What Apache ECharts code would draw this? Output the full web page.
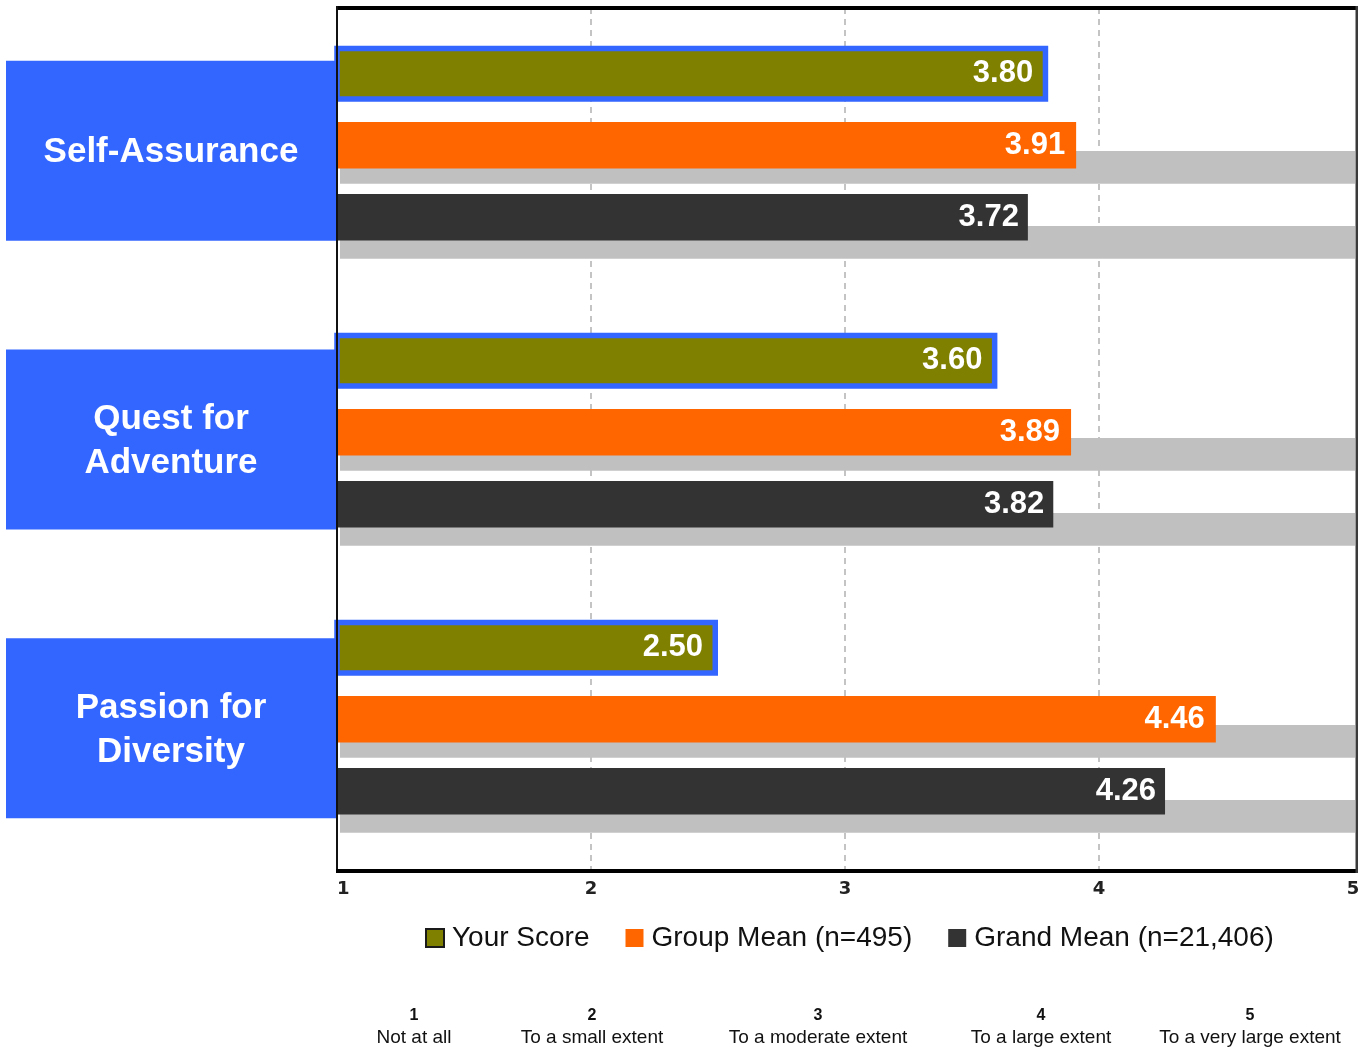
<!DOCTYPE html>
<html>
<head>
<meta charset="utf-8">
<script src="https://cdn.jsdelivr.net/npm/echarts@6/dist/echarts.min.js"></script>
<style>
  html, body { margin: 0; padding: 0; background: #ffffff; }
  #chart { width: 1359px; height: 1050px; }
</style>
</head>
<body>
<div id="chart"></div>
<script>
// ---- data ----
const categories = ['Self-Assurance', 'Quest for\nAdventure', 'Passion for\nDiversity'];
const seriesNames = ['Your Score', 'Group Mean (n=495)', 'Grand Mean (n=21,406)'];
const yourScore = [3.80, 3.60, 2.50];
const groupMean = [3.91, 3.89, 4.46];
const grandMean = [3.72, 3.82, 4.26];
const scalePoints = [1, 2, 3, 4, 5];
const scaleLabels = ['Not at all', 'To a small extent', 'To a moderate extent', 'To a large extent', 'To a very large extent'];

// ---- layout & style ----
const SCALE_MIN = scalePoints[0];
const SCALE_MAX = scalePoints[scalePoints.length - 1];
const fullTrack = categories.map(() => SCALE_MAX);

const COLORS = {
  olive: '#808000',
  orange: '#ff6600',
  dark: '#333333',
  track: '#c0c0c0',
  blue: '#3366ff',
  grid: '#c4c4c4'
};
const SANS = '"Liberation Sans", Arial, sans-serif';

const PLOT = { left: 337, right: 6, top: 8, bottom: 181 };

// Every row of bars lives in its own copy of the plot grid, nudged vertically,
// so each bar can sit at its own offset inside a category band.
function rowGrid(shift, left, right) {
  return {
    left: left === undefined ? PLOT.left : left,
    right: right === undefined ? PLOT.right : right,
    top: PLOT.top + shift,
    bottom: PLOT.bottom - shift,
    outerBoundsMode: 'none',
    containLabel: false
  };
}

const grids = [
  rowGrid(0),               // 0: frame and scale ticks
  rowGrid(-77.7),           // 1: your score
  rowGrid(-6.2),            // 2: group mean
  rowGrid(65.8),            // 3: grand mean
  rowGrid(15.8, 340, 4),    // 4: grey track under group mean
  rowGrid(90.9, 340, 4),    // 5: grey track under grand mean
  { left: PLOT.left, right: PLOT.right, top: 6.3, bottom: 177.3, outerBoundsMode: 'none', containLabel: false } // 6: category boxes
];
const LABEL_GRID = 6;

const xAxes = grids.map((g, i) => ({
  gridIndex: i,
  type: 'value',
  min: SCALE_MIN,
  max: SCALE_MAX,
  interval: 1,
  show: i === 0,
  axisLine: { show: false },
  axisTick: { show: false },
  splitLine: {
    show: i === 0,
    showMinLine: false,
    showMaxLine: false,
    lineStyle: { color: COLORS.grid, width: 2, type: [6, 5] }
  },
  axisLabel: {
    show: i === 0,
    margin: 11,
    fontFamily: '"DejaVu Sans", Verdana, sans-serif',
    fontWeight: 'bold',
    fontSize: 18,
    color: '#222222',
    alignMinLabel: 'left'
  }
}));

const yAxes = grids.map((g, i) => ({
  gridIndex: i,
  type: 'category',
  data: categories,
  inverse: true,
  show: i === LABEL_GRID,
  axisLine: { show: false },
  axisTick: { show: false },
  splitLine: { show: false },
  axisLabel: {
    show: i === LABEL_GRID,
    interval: 0,
    margin: 166,
    align: 'center',
    width: 330,
    padding: [48, 0, 44, 0],
    backgroundColor: COLORS.blue,
    formatter: function (v) {
      const lines = v.split('\n');
      if (lines.length === 1) return '{one|' + v + '}';
      return lines.map(l => '{two|' + l + '}').join('\n');
    },
    rich: {
      one: { fontFamily: SANS, fontWeight: 'bold', fontSize: 35, color: '#ffffff', lineHeight: 88, align: 'center' },
      two: { fontFamily: SANS, fontWeight: 'bold', fontSize: 35, color: '#ffffff', lineHeight: 44, align: 'center' }
    }
  }
}));

function valueLabel(distance) {
  return {
    show: true,
    position: 'insideRight',
    distance: distance,
    color: '#ffffff',
    fontFamily: SANS,
    fontWeight: 'bold',
    fontSize: 31,
    formatter: p => p.value.toFixed(2)
  };
}

const series = [
  {
    name: 'Full scale (group)',
    type: 'bar', xAxisIndex: 4, yAxisIndex: 4,
    data: fullTrack, barWidth: 32.7, z: 1, silent: true,
    itemStyle: { color: COLORS.track }
  },
  {
    name: 'Full scale (grand)',
    type: 'bar', xAxisIndex: 5, yAxisIndex: 5,
    data: fullTrack, barWidth: 32.7, z: 1, silent: true,
    itemStyle: { color: COLORS.track }
  },
  {
    name: seriesNames[0],
    type: 'bar', xAxisIndex: 1, yAxisIndex: 1,
    data: yourScore, barWidth: 56, z: 3,
    itemStyle: { color: COLORS.olive, borderColor: COLORS.blue, borderWidth: 5.5 },
    label: valueLabel(15)
  },
  {
    name: seriesNames[1],
    type: 'bar', xAxisIndex: 2, yAxisIndex: 2,
    data: groupMean, barWidth: 46.6, z: 3,
    itemStyle: { color: COLORS.orange },
    label: valueLabel(11)
  },
  {
    name: seriesNames[2],
    type: 'bar', xAxisIndex: 3, yAxisIndex: 3,
    data: grandMean, barWidth: 46.6, z: 3,
    itemStyle: { color: COLORS.dark },
    label: valueLabel(9)
  }
];

// plot frame
const frame = [
  { type: 'rect', shape: { x: 336, y: 6, width: 1022, height: 4 }, style: { fill: '#000000' }, z: 50 },
  { type: 'rect', shape: { x: 336, y: 6, width: 2, height: 867 }, style: { fill: '#111111' }, z: 50 },
  { type: 'rect', shape: { x: 336, y: 869, width: 1022, height: 4 }, style: { fill: '#000000' }, z: 50 },
  { type: 'rect', shape: { x: 1355.5, y: 6, width: 2.5, height: 867 }, style: { fill: '#3a3a3a' }, z: 50 }
];

// response-scale key under the legend
const keyX = [414, 592, 818, 1041, 1250];
const key = [];
scalePoints.forEach((p, i) => {
  key.push({
    type: 'text', x: keyX[i], y: 1016, z: 50,
    style: {
      text: String(p), fill: '#111111',
      font: 'bold 16px ' + SANS,
      align: 'center', verticalAlign: 'middle',
      textAlign: 'center', textVerticalAlign: 'middle'
    }
  });
  key.push({
    type: 'text', x: keyX[i], y: 1038, z: 50,
    style: {
      text: scaleLabels[i], fill: '#111111',
      font: '19px ' + SANS,
      align: 'center', verticalAlign: 'middle',
      textAlign: 'center', textVerticalAlign: 'middle'
    }
  });
});

const chart = echarts.init(document.getElementById('chart'), null, { renderer: 'canvas' });
chart.setOption({
  animation: false,
  backgroundColor: '#ffffff',
  grid: grids,
  xAxis: xAxes,
  yAxis: yAxes,
  legend: {
    left: 425,
    top: 924,
    padding: 0,
    icon: 'rect',
    itemWidth: 18,
    itemHeight: 18,
    itemGap: 36,
    selectedMode: false,
    textStyle: { fontFamily: SANS, fontSize: 28, color: '#111111', padding: [0, 0, 0, 3] },
    data: [
      { name: seriesNames[0], itemStyle: { color: COLORS.olive, borderColor: '#1a1a1a', borderWidth: 2 } },
      { name: seriesNames[1], itemStyle: { color: COLORS.orange, borderWidth: 0 } },
      { name: seriesNames[2], itemStyle: { color: COLORS.dark, borderWidth: 0 } }
    ]
  },
  graphic: frame.concat(key),
  series: series
});
</script>
</body>
</html>
